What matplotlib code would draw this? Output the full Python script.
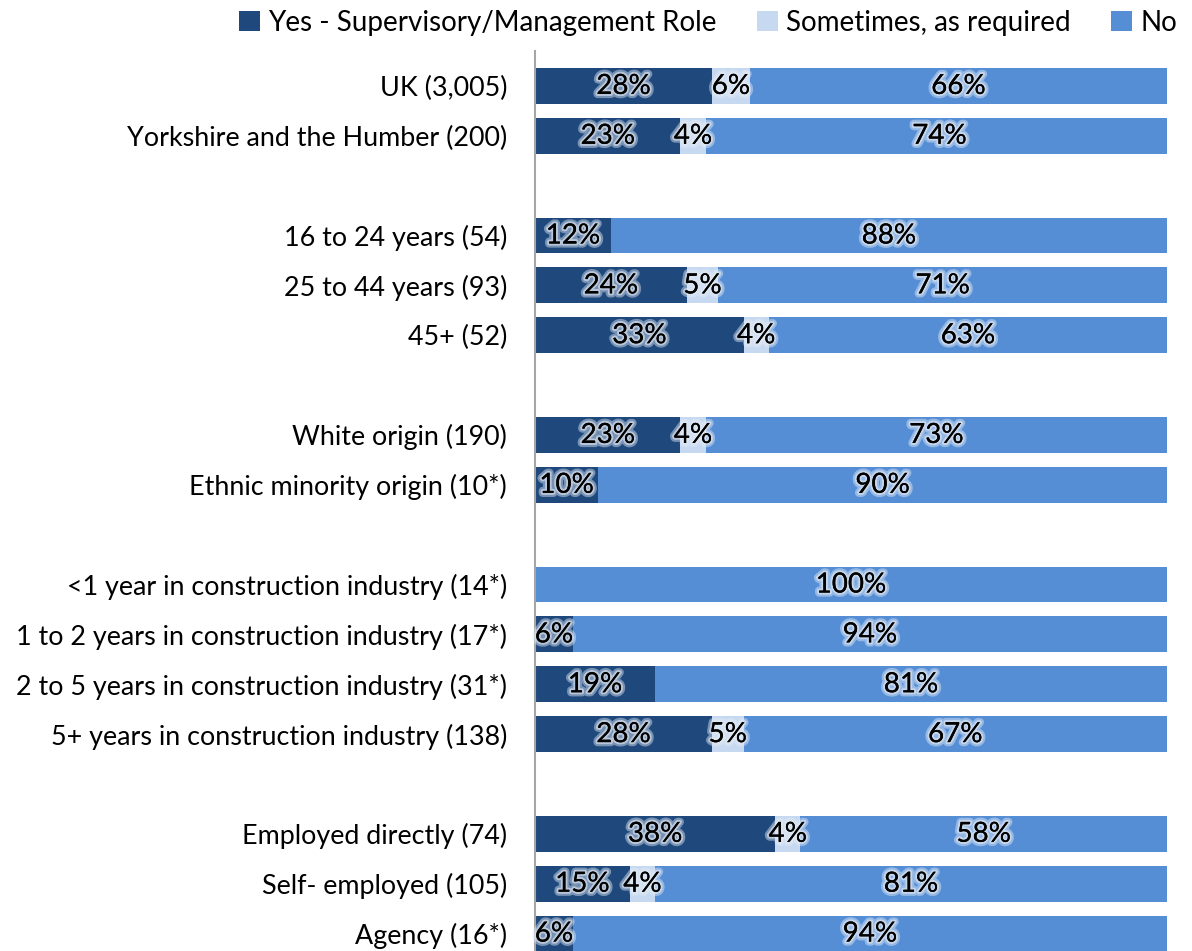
import matplotlib
matplotlib.use("Agg")
import matplotlib.pyplot as plt
import matplotlib.patheffects as pe
import numpy as np

categories = [
    "UK (3,005)", "Yorkshire and the Humber (200)", None,
    "16 to 24 years (54)", "25 to 44 years (93)", "45+ (52)", None,
    "White origin (190)", "Ethnic minority origin (10*)", None,
    "<1 year in construction industry (14*)", "1 to 2 years in construction industry (17*)",
    "2 to 5 years in construction industry (31*)", "5+ years in construction industry (138)", None,
    "Employed directly (74)", "Self- employed (105)", "Agency (16*)",
]
series_names = ["Yes - Supervisory/Management Role", "Sometimes, as required", "No"]
yes_vals = [28, 23, None, 12, 24, 33, None, 23, 10, None, 0, 6, 19, 28, None, 38, 15, 6]
some_vals = [6, 4, None, 0, 5, 4, None, 4, 0, None, 0, 0, 0, 5, None, 4, 4, 0]
no_vals = [66, 74, None, 88, 71, 63, None, 73, 90, None, 100, 94, 81, 67, None, 58, 81, 94]

colors = ["#1F497D", "#C6D9F1", "#558ED5"]

plt.rcParams['font.family'] = ['Lato', 'DejaVu Sans']

W, H = 1192, 951
fig = plt.figure(figsize=(W / 100, H / 100), dpi=100)
ax = fig.add_axes([535 / W, 0, (1167 - 535) / W, 1 - 51 / H])

idx = [i for i, c in enumerate(categories) if c is not None]
y = np.array(idx, dtype=float)
yes = np.array([yes_vals[i] for i in idx], dtype=float)
some = np.array([some_vals[i] for i in idx], dtype=float)
no = np.array([no_vals[i] for i in idx], dtype=float)

glow = [pe.withStroke(linewidth=6, foreground="#e3ebf5", alpha=0.45),
        pe.withStroke(linewidth=3, foreground="#e3ebf5", alpha=0.6),
        pe.Normal()]
left = np.zeros_like(yes)
for vals, col, name in zip([yes, some, no], colors, series_names):
    ax.barh(y, vals, left=left, height=0.72, color=col, label=name)
    for yi, l, v in zip(y, left, vals):
        if v > 0:
            ax.text(l + v / 2, yi, f"{int(v)}%", ha="center", va="center",
                    fontsize=20, color="black", path_effects=glow)
    left = left + vals

ax.set_xlim(0, 100)
ax.set_ylim(17.35, -0.7)
ax.set_yticks(y)
ax.set_yticklabels([categories[i] for i in idx], fontsize=19.4)
ax.tick_params(axis="y", length=0, pad=20)
ax.set_xticks([])
for s in ["top", "right", "bottom"]:
    ax.spines[s].set_visible(False)
ax.spines["left"].set_color("#a6a6a6")
ax.spines["left"].set_linewidth(1.5)

handles, labels = ax.get_legend_handles_labels()
fig.legend(handles, labels, loc="upper left", bbox_to_anchor=(214 / W, 1.016), ncol=3,
           frameon=False, fontsize=20, handlelength=0.75, handleheight=0.75,
           handletextpad=0.3, columnspacing=1.45)

fig.savefig("out.png", dpi=100)
